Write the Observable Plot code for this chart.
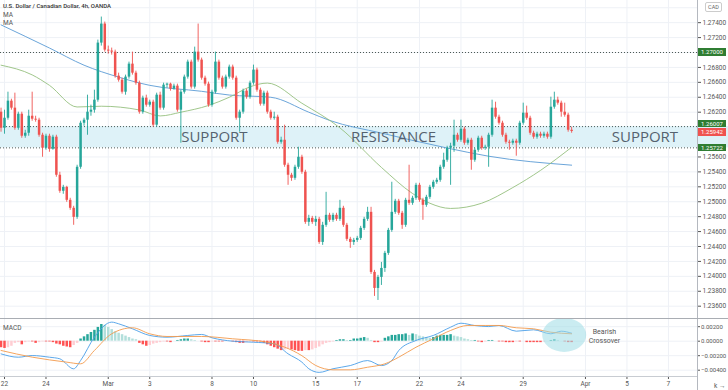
<!DOCTYPE html>
<html><head><meta charset="utf-8">
<script src="https://cdn.jsdelivr.net/npm/d3@7"></script>
<script src="https://cdn.jsdelivr.net/npm/@observablehq/plot@0.6"></script>
<style>
body{margin:0;background:#fff;}
#wrap{position:relative;width:728px;height:390px;overflow:hidden;font-family:Roboto,"Liberation Sans",sans-serif;background:#fff;}
#wrap svg{display:block;position:absolute;left:0;background:transparent;}
.abs{position:absolute;white-space:nowrap;}
</style></head><body><div id="wrap"></div>
<script>
// ---------- DATA ----------
const title = "U.S. Dollar / Canadian Dollar, 4h, OANDA";
const firstBar = -1; // bar index of first candle (bar 0 = first 4h bar of Feb 22)
const open = [
1.26200,1.25985,1.26119,1.26348,1.26254,1.25985,1.26173,1.25878,1.25918,1.26146,
1.26106,1.26093,1.25891,1.25717,1.25878,1.25703,1.25865,1.25355,1.25140,1.25193,
1.25019,1.24912,1.24791,1.25462,1.26052,1.26093,1.26200,1.26227,1.26361,1.27126,
1.27381,1.27032,1.27019,1.27005,1.26683,1.26629,1.26468,1.26670,1.26844,1.26723,
1.26589,1.26200,1.26388,1.26294,1.26334,1.26026,1.26428,1.26254,1.26562,1.26576,
1.26509,1.26549,1.26227,1.26468,1.26670,1.26871,1.26536,1.27005,1.26898,1.26656,
1.26576,1.26294,1.26468,1.26871,1.26656,1.26536,1.26670,1.26804,1.26656,1.26119,
1.26200,1.26482,1.26401,1.26589,1.26764,1.26495,1.26307,1.26455,1.26200,1.26119,
1.26133,1.25797,1.25824,1.25489,1.25355,1.25314,1.25462,1.25596,1.25395,1.24724,
1.24777,1.24724,1.24764,1.24455,1.24684,1.24818,1.24751,1.24818,1.24764,1.24912,
1.24684,1.24496,1.24455,1.24482,1.24509,1.24643,1.24764,1.24858,1.24053,1.23838,
1.23986,1.24106,1.24308,1.24616,1.24858,1.25006,1.24845,1.24684,1.25019,1.24979,
1.25046,1.25220,1.25019,1.24952,1.25059,1.25193,1.25261,1.25287,1.25462,1.25556,
1.25717,1.25744,1.25891,1.25824,1.25972,1.25784,1.25824,1.25556,1.25690,1.25851,
1.25717,1.25730,1.25891,1.26254,1.26133,1.26052,1.25891,1.25797,1.25784,1.25811,
1.25784,1.26052,1.26187,1.26119,1.25918,1.25865,1.25905,1.25878,1.25905,1.25865,
1.26267,1.26361,1.26321,1.26200,1.26160,1.25958];
const high = [
1.26254,1.26227,1.26468,1.26374,1.26455,1.26200,1.26200,1.25958,1.26227,1.26468,
1.26146,1.26119,1.25918,1.25905,1.25905,1.25891,1.25891,1.25395,1.25220,1.25207,
1.25046,1.24939,1.25489,1.26079,1.26119,1.26428,1.26294,1.26495,1.27166,1.27475,
1.27408,1.27086,1.27059,1.27032,1.26723,1.26656,1.26697,1.26871,1.27005,1.26750,
1.26616,1.26415,1.26428,1.26361,1.26361,1.26455,1.26468,1.26589,1.26589,1.26589,
1.26576,1.26576,1.26495,1.26697,1.26898,1.26898,1.27072,1.27381,1.26925,1.26683,
1.26603,1.26495,1.27005,1.26898,1.26683,1.26697,1.26831,1.26831,1.26683,1.26227,
1.26509,1.26509,1.26616,1.26831,1.26790,1.26522,1.26482,1.26482,1.26227,1.26200,
1.26160,1.25865,1.26026,1.25516,1.25381,1.25489,1.25730,1.25623,1.25422,1.24818,
1.24804,1.24804,1.24791,1.24724,1.25126,1.24845,1.24845,1.24845,1.25019,1.24939,
1.24710,1.24523,1.24509,1.24536,1.24670,1.24791,1.24925,1.24925,1.24080,1.24013,
1.24187,1.24335,1.24643,1.25261,1.25032,1.25032,1.24871,1.25046,1.25489,1.25073,
1.25247,1.25247,1.25046,1.25086,1.25220,1.25287,1.25314,1.25489,1.25650,1.25744,
1.25784,1.26093,1.25918,1.26093,1.25999,1.25851,1.25851,1.25717,1.25878,1.25878,
1.25757,1.25918,1.26361,1.26334,1.26160,1.26079,1.25918,1.25824,1.25838,1.25838,
1.26079,1.26321,1.26281,1.26146,1.25945,1.25932,1.25932,1.25932,1.25932,1.26401,
1.26468,1.26401,1.26348,1.26321,1.26187,1.25999];
const low = [
1.25932,1.25905,1.26093,1.26227,1.25958,1.25958,1.25851,1.25851,1.25878,1.26079,
1.26066,1.25865,1.25596,1.25690,1.25663,1.25690,1.25328,1.25113,1.25100,1.24992,
1.24885,1.24684,1.24764,1.25435,1.26012,1.25891,1.26146,1.26187,1.26334,1.27086,
1.27005,1.26978,1.26965,1.26656,1.26603,1.26442,1.26428,1.26643,1.26697,1.26562,
1.26173,1.26173,1.26267,1.26267,1.25999,1.25999,1.26227,1.26227,1.26522,1.26482,
1.26495,1.26200,1.25784,1.26442,1.26643,1.26509,1.26509,1.26871,1.26629,1.26549,
1.26267,1.26267,1.26442,1.26629,1.26509,1.26509,1.26643,1.26629,1.26093,1.25932,
1.26173,1.26374,1.26374,1.26562,1.26468,1.26281,1.26281,1.26173,1.26093,1.26093,
1.25771,1.25771,1.25462,1.25220,1.25274,1.25287,1.25435,1.25368,1.24697,1.24670,
1.24697,1.24670,1.24429,1.24415,1.24657,1.24724,1.24724,1.24737,1.24737,1.24657,
1.24469,1.24375,1.24415,1.24455,1.24482,1.24616,1.24737,1.24026,1.23731,1.23677,
1.23878,1.24053,1.24281,1.24590,1.24831,1.24818,1.24630,1.24657,1.24952,1.24952,
1.25019,1.24992,1.24751,1.24925,1.25032,1.25167,1.25234,1.25261,1.25435,1.25529,
1.25220,1.25663,1.25797,1.25797,1.25757,1.25757,1.25422,1.25529,1.25663,1.25690,
1.25690,1.25462,1.25865,1.26106,1.26026,1.25865,1.25771,1.25690,1.25757,1.25610,
1.25757,1.26026,1.26093,1.25891,1.25838,1.25838,1.25851,1.25851,1.25838,1.25838,
1.26240,1.26294,1.26133,1.26133,1.25932,1.25918];
const close = [
1.25985,1.26119,1.26348,1.26254,1.25985,1.26173,1.25878,1.25918,1.26146,1.26106,
1.26093,1.25891,1.25717,1.25878,1.25703,1.25865,1.25355,1.25140,1.25193,1.25019,
1.24912,1.24791,1.25462,1.26052,1.26093,1.26200,1.26227,1.26361,1.27126,1.27381,
1.27032,1.27019,1.27005,1.26683,1.26629,1.26468,1.26670,1.26844,1.26723,1.26589,
1.26200,1.26388,1.26294,1.26334,1.26026,1.26428,1.26254,1.26562,1.26576,1.26509,
1.26549,1.26227,1.26468,1.26670,1.26871,1.26536,1.27005,1.26898,1.26656,1.26576,
1.26294,1.26468,1.26871,1.26656,1.26536,1.26670,1.26804,1.26656,1.26119,1.26200,
1.26482,1.26401,1.26589,1.26764,1.26495,1.26307,1.26455,1.26200,1.26119,1.26133,
1.25797,1.25824,1.25489,1.25355,1.25314,1.25462,1.25596,1.25395,1.24724,1.24777,
1.24724,1.24764,1.24455,1.24684,1.24818,1.24751,1.24818,1.24764,1.24912,1.24684,
1.24496,1.24455,1.24482,1.24509,1.24643,1.24764,1.24858,1.24053,1.23838,1.23986,
1.24106,1.24308,1.24616,1.24858,1.25006,1.24845,1.24684,1.25019,1.24979,1.25046,
1.25220,1.25019,1.24952,1.25059,1.25193,1.25261,1.25287,1.25462,1.25556,1.25717,
1.25744,1.25891,1.25824,1.25972,1.25784,1.25824,1.25556,1.25690,1.25851,1.25717,
1.25730,1.25891,1.26254,1.26133,1.26052,1.25891,1.25797,1.25784,1.25811,1.25784,
1.26052,1.26187,1.26119,1.25918,1.25865,1.25905,1.25878,1.25905,1.25865,1.26267,
1.26361,1.26321,1.26200,1.26160,1.25958,1.25942];

// Moving averages read at sample bars
const maBlueBar = [-1,13,23,33,42,57,65,77,88,94,109,128,140,164];
const maBlueVal = [1.2737,1.2706,1.2683,1.2667,1.2656,1.2648,1.2643,1.2640,1.2620,1.2609,1.2592,1.2572,1.2561,1.2549];
const maGreenBar = [-1,8,13,21,28,39,45,51,59,65,71,76,86,97,109,118,123,129,138,147,155,164];
const maGreenVal = [1.2683,1.2670,1.2656,1.2627,1.2628,1.2623,1.2615,1.2620,1.2629,1.2640,1.2654,1.2659,1.2632,1.2599,1.2546,1.2511,1.2498,1.2491,1.2498,1.2519,1.2542,1.2573];

// Levels / zone
const levelValues = [1.27000, 1.26007, 1.25722];
const lastPrice = 1.25942;
const zoneLow = 1.25722, zoneHigh = 1.26007;
const zoneLabels = ["SUPPORT","RESISTANCE","SUPPORT"];
const zoneLabelBars = [60.7, 112.5, 185.2];

// Axes
const dayLabels = ["22","24","Mar","3","8","10","15","17","22","24","29","Apr","5","7"];
const dayBars   = [0,12,30,42,60,72,90,102,120,132,150,168,180,192];
const priceGrid = [1.236,1.238,1.240,1.242,1.244,1.246,1.248,1.250,1.252,1.254,1.256,1.258,1.260,1.262,1.264,1.266,1.268,1.270,1.272,1.274,1.276];
const priceTickLabels = [1.236,1.238,1.240,1.242,1.244,1.246,1.248,1.250,1.252,1.254,1.256,1.262,1.264,1.266,1.268,1.272,1.274];
const macdTicks = [0.002, 0, -0.002, -0.004];

// MACD (units of 0.0001 for histogram)
const histVal = [
-9,-10,-9,-7,-3,-2,-5,-2,-1,-1,
-3,-2,-1,-1,-1,-2,-4,-5,-7,-8,
-9,-6,-3,3,6,9,12,15,19,23,
22,19,16,13,11,9,7,5,3,2,
-3,-5,-7,-6,-4,-3,-2,-1,-1,-2,
0,1,2,3,3,2,1,0,-1,-2,
-2,-1,-1,-1,-1,0,0,-1,-2,-3,
-3,-2,-1,-1,-1,-1,-3,-5,-7,-9,
-11,-13,-12,-11,-12,-13,-14,-14,-13,-13,
-12,-10,-8,-5,-3,-2,-1,1,2,2,
1,1,3,3,4,5,4,1,-2,-2,
-1,4,6,8,8,9,9,10,8,10,
9,7,6,5,4,5,7,8,8,8,
9,7,6,5,3,2,1,1,-1,-2,
-1,1,1,0,-1,-1,-2,-2,-2,-1,
-1,0,-2,-2,-2,-2,-2,-1,0,1,
2,1,0,-1,-2,-2];
const macdBar = [-1,4,8,13,16,20,22,26,31,33,37,42,47,53,57,60,66,72,78,82,86,88,91,95,100,105,109,112,114,119,124,129,132,136,140,143,148,153,158,161,164];
const macdVal = [-0.00175,-0.00221,-0.00198,-0.00221,-0.00243,-0.00381,-0.00267,0.00055,0.00263,0.00240,0.00171,0.00079,0.00055,0.00079,0.00093,0.00047,0.0000,-0.00014,-0.00036,-0.00174,-0.00289,-0.0038,-0.0043,-0.0038,-0.00336,-0.00267,-0.00336,-0.00267,-0.00129,0.0001,0.00079,0.00193,0.00248,0.00216,0.00202,0.00216,0.00138,0.00157,0.00102,0.00138,0.0011];
const signalBar = [-1,8,18,22,26,31,37,42,47,57,66,76,86,90,95,100,105,110,114,119,124,129,134,139,143,148,153,158,164];
const signalVal = [-0.00128,-0.0022,-0.00289,-0.00312,-0.00128,0.00102,0.00185,0.00102,0.00065,0.00065,0.00033,-0.00014,-0.0020,-0.00335,-0.00395,-0.00395,-0.00359,-0.00312,-0.00221,-0.00083,0.00033,0.00148,0.00217,0.00217,0.00217,0.00185,0.00171,0.00124,0.00102];
const crossBar = 162, crossVal = 0.0008;
const noteText = "Bearish\nCrossover", noteBar = 173.5, noteVal = 0.00072;

// ---------- BUILD ----------
const W = 728, AX = 697, TOPH = 318, MACDH = 72;
const xDomain = [-1.157, 200.4];
const UP = "#26a69a", DOWN = "#ef5350", GRID = "#eef1f6";
const FONT = "Roboto, 'Liberation Sans', sans-serif";

const candles = close.map((c, i) => ({k: firstBar + i, o: open[i], h: high[i], l: low[i], c}));
const blue = maBlueBar.map((k, i) => ({k, v: maBlueVal[i]}));
const green = maGreenBar.map((k, i) => ({k, v: maGreenVal[i]}));
const zl = zoneLabels.map((t, i) => ({t, k: zoneLabelBars[i], v: (zoneLow + zoneHigh) / 2}));

const wrap = document.getElementById("wrap");

const pricePlot = Plot.plot({
  width: W, height: TOPH, marginTop: 0, marginBottom: 0, marginLeft: 0, marginRight: W - AX,
  x: {domain: xDomain, axis: null},
  y: {domain: [1.23435, 1.27697], axis: null},
  color: {type: "identity"},
  style: {background: "transparent", fontFamily: FONT},
  marks: [
    Plot.gridY(priceGrid, {stroke: GRID, strokeOpacity: 1}),
    Plot.gridX(dayBars, {stroke: GRID, strokeOpacity: 1}),
    Plot.rect([{lo: zoneLow, hi: zoneHigh}], {x1: () => xDomain[0], x2: () => xDomain[1] + 10, y1: "lo", y2: "hi", fill: "#def2f8"}),
    Plot.ruleY(levelValues, {stroke: "#4d5a55", strokeDasharray: "1,2", strokeWidth: 1}),
    Plot.line(blue, {x: "k", y: "v", stroke: "#5a9bd5", strokeWidth: 0.9, curve: "monotone-x"}),
    Plot.line(green, {x: "k", y: "v", stroke: "#95c07e", strokeWidth: 0.9, curve: "monotone-x"}),
    Plot.ruleX(candles, {x: "k", y1: "l", y2: "h", stroke: d => d.c >= d.o ? UP : DOWN, strokeWidth: 0.9}),
    Plot.ruleX(candles, {x: "k", y1: "o", y2: "c", stroke: d => d.c >= d.o ? UP : DOWN, strokeWidth: 2.5}),
    Plot.text(zl, {x: "k", y: "v", text: "t", fontSize: 15, fill: "#55626f", fontFamily: "'Open Sans', Roboto, sans-serif"}),
    Plot.axisY(priceTickLabels, {anchor: "right", tickSize: 3, tickPadding: 2, tickFormat: d => d.toFixed(5), fontSize: 6.5, color: "#555"})
  ]
});
pricePlot.style.top = "0px";
wrap.appendChild(pricePlot);

const hist = histVal.map((h, i) => {
  const prev = i > 0 ? histVal[i - 1] : h;
  let col;
  if (h >= 0) col = h >= prev ? "#26a69a" : "#b2dfdb";
  else col = h <= prev ? "#ff5252" : "#ffcdd2";
  return {k: firstBar + i, h: h / 10000, col};
});
const macdLine = macdBar.map((k, i) => ({k, v: macdVal[i]}));
const sigLine = signalBar.map((k, i) => ({k, v: signalVal[i]}));
const labMap = new Map(dayBars.map((b, i) => [b, dayLabels[i]]));

const macdPlot = Plot.plot({
  width: W, height: MACDH, marginTop: 0, marginBottom: 14, marginLeft: 0, marginRight: W - AX,
  x: {domain: xDomain, axis: null},
  y: {domain: [-0.00487, 0.00313], axis: null},
  color: {type: "identity"},
  style: {background: "transparent", fontFamily: FONT},
  marks: [
    Plot.gridY(macdTicks, {stroke: GRID, strokeOpacity: 1}),
    Plot.gridX(dayBars, {stroke: GRID, strokeOpacity: 1}),
    Plot.ruleX(hist, {x: "k", y1: () => 0, y2: "h", stroke: "col", strokeWidth: 2.5}),
    Plot.line(macdLine, {x: "k", y: "v", stroke: "#4a9ee8", strokeWidth: 0.9, curve: "monotone-x", clip: true}),
    Plot.line(sigLine, {x: "k", y: "v", stroke: "#f39a4c", strokeWidth: 0.9, curve: "monotone-x", clip: true}),
    Plot.axisY(macdTicks, {anchor: "right", tickSize: 2, tickPadding: 1.5, tickFormat: d => d3.format(".5f")(d), fontSize: 6, color: "#555"}),
    Plot.axisX(dayBars, {anchor: "bottom", tickSize: 3, tickPadding: 2, tickFormat: d => labMap.get(d), fontSize: 6.5, color: "#555"}),
    Plot.text([{t: noteText, k: noteBar, v: noteVal}], {x: "k", y: "v", text: "t", fontSize: 7, fill: "#555", lineHeight: 1.2})
  ]
});
macdPlot.style.top = TOPH + "px";
wrap.appendChild(macdPlot);

// annotation ellipse around the crossover
const mx = macdPlot.scale("x"), my = macdPlot.scale("y");
d3.select(macdPlot).append("ellipse")
  .attr("cx", mx.apply(crossBar)).attr("cy", my.apply(crossVal))
  .attr("rx", 22).attr("ry", 17)
  .attr("fill", "#9fdce6").attr("fill-opacity", 0.55);

// ---------- FRAME & LABEL OVERLAYS ----------
function div(text, style) {
  const d = document.createElement("div");
  d.className = "abs";
  d.textContent = text;
  Object.assign(d.style, style);
  wrap.appendChild(d);
  return d;
}
div("", {left: AX + "px", top: "0px", width: "1px", height: "390px", background: "#b4b8bf"});
div("", {left: "0px", top: TOPH + "px", width: W + "px", height: "1px", background: "#a9adb3"});
div("", {left: "0px", top: (TOPH + MACDH - 14) + "px", width: AX + "px", height: "1px", background: "#c8ccd2"});

div(title, {left: "3px", top: "2px", fontSize: "6px", color: "#333", fontWeight: "500"});
div("MA", {left: "3px", top: "11px", fontSize: "6.5px", color: "#555"});
div("MA", {left: "3px", top: "19px", fontSize: "6.5px", color: "#555"});
div("MACD", {left: "3px", top: (TOPH + 6) + "px", fontSize: "6.5px", color: "#555"});

const py = pricePlot.scale("y");
div("CAD", {left: "705px", top: "2px", width: "15px", height: "8px", lineHeight: "8px", fontSize: "5.5px", color: "#666", background: "#fff", border: "1px solid #ccc", borderRadius: "2px", textAlign: "center"});
const boxes = [
  {v: levelValues[0], c: "#2f7d32", dy: 0},
  {v: levelValues[1], c: "#2f7d32", dy: -2.6},
  {v: lastPrice, c: "#ef5350", dy: 1.2},
  {v: levelValues[2], c: "#2f7d32", dy: 0}
];
boxes.forEach(b => {
  div(b.v.toFixed(5), {left: "698px", top: (py.apply(b.v) - 3.75 + b.dy) + "px", width: "28px", height: "7.5px", lineHeight: "7.5px",
    fontSize: "6px", color: "#fff", background: b.c, textAlign: "center"});
});
</script></body></html>
